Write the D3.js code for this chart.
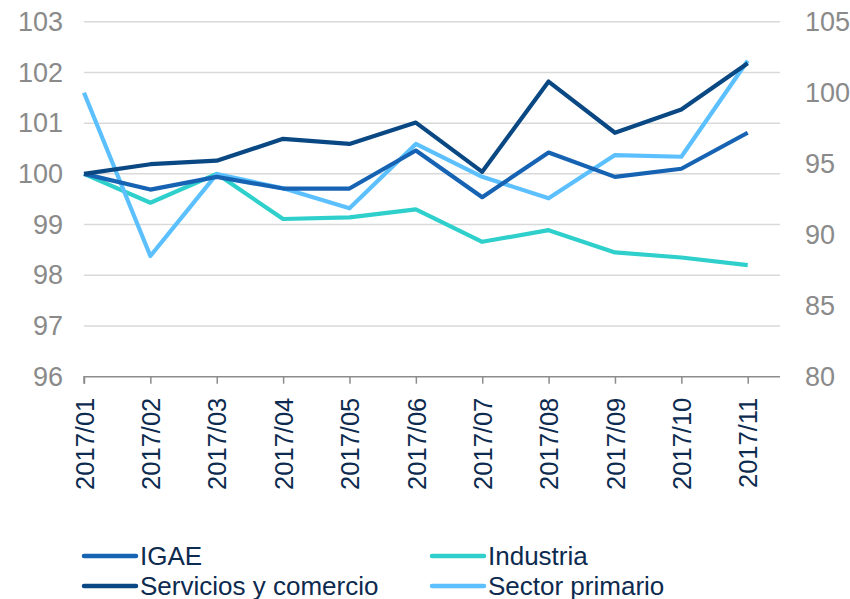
<!DOCTYPE html>
<html>
<head>
<meta charset="utf-8">
<script src="https://cdnjs.cloudflare.com/ajax/libs/d3/7.8.5/d3.min.js"></script>
<style>
  body { margin: 0; background: #fff; }
  text { font-family: "Liberation Sans", Arial, sans-serif; }
</style>
</head>
<body>
<div id="chart"></div>
<script>
const months = ["2017/01", "2017/02", "2017/03", "2017/04", "2017/05", "2017/06",
  "2017/07", "2017/08", "2017/09", "2017/10", "2017/11"];
const igae = [100.0, 99.69, 99.94, 99.71, 99.71, 100.46, 99.54, 100.42, 99.94, 100.10, 100.81];
const servicios = [100.0, 100.19, 100.26, 100.69, 100.59, 101.01, 100.04, 101.82, 100.81, 101.27, 102.18];
const industria = [100.0, 99.43, 100.0, 99.11, 99.14, 99.30, 98.66, 98.89, 98.45, 98.35, 98.20];
// plotted on the right axis
const primario = [100.0, 88.5, 94.27, 93.27, 91.86, 96.39, 94.08, 92.56, 95.61, 95.49, 102.25];
const leftTicks = [96, 97, 98, 99, 100, 101, 102, 103];
const rightTicks = [80, 85, 90, 95, 100, 105];

const series = [
  { name: "IGAE", values: igae, color: "#1763b3", axis: "left" },
  { name: "Industria", values: industria, color: "#2fd0cc", axis: "left" },
  { name: "Servicios y comercio", values: servicios, color: "#0a4884", axis: "left" },
  { name: "Sector primario", values: primario, color: "#5cc0ff", axis: "right" }
];

const W = 850, H = 599;
const plotLeft = 84, plotRight = 780, plotTop = 21.7, plotBottom = 376.7;

const svg = d3.select("#chart").append("svg")
  .attr("width", W)
  .attr("height", H);

const x = d3.scalePoint()
  .domain(months)
  .range([plotLeft, 747.7]);

const yL = d3.scaleLinear().domain([96, 103]).range([plotBottom, plotTop]);
const yR = d3.scaleLinear().domain([80, 105]).range([plotBottom, plotTop]);

// gridlines
svg.append("g")
  .selectAll("line")
  .data(leftTicks.slice(1))
  .enter()
  .append("line")
  .attr("x1", plotLeft)
  .attr("x2", plotRight)
  .attr("y1", d => yL(d))
  .attr("y2", d => yL(d))
  .attr("stroke", "#d9d9d9")
  .attr("stroke-width", 1.5);

// left axis labels
const leftAxis = svg.append("g")
  .attr("transform", `translate(${plotLeft},0)`)
  .call(d3.axisLeft(yL).tickValues(leftTicks).tickFormat(d3.format("d")).tickSize(0).tickPadding(21));
leftAxis.select(".domain").remove();
leftAxis.selectAll("text")
  .attr("fill", "#8a8a8a")
  .style("font-size", "27px");

// right axis labels
const rightAxis = svg.append("g")
  .attr("transform", `translate(${plotRight},0)`)
  .call(d3.axisRight(yR).tickValues(rightTicks).tickFormat(d3.format("d")).tickSize(0).tickPadding(25));
rightAxis.select(".domain").remove();
rightAxis.selectAll("text")
  .attr("fill", "#8a8a8a")
  .style("font-size", "27px");

// bottom axis
const xAxis = svg.append("g")
  .attr("transform", `translate(0,${plotBottom})`)
  .call(d3.axisBottom(x).tickSize(7).tickPadding(0));
xAxis.select(".domain")
  .attr("d", `M${plotLeft},7V0H${plotRight}`)
  .attr("stroke", "#8c8c8c")
  .attr("stroke-width", 1.5);
xAxis.selectAll(".tick line")
  .attr("stroke", "#8c8c8c")
  .attr("stroke-width", 1.5);
xAxis.selectAll("text")
  .attr("fill", "#0d2a4f")
  .style("font-size", "25.5px")
  .attr("transform", "rotate(-90)")
  .attr("text-anchor", "end")
  .attr("x", -21)
  .attr("y", 0)
  .attr("dy", "0.36em");

// lines
const drawOrder = [series[1], series[3], series[0], series[2]];
svg.append("g")
  .selectAll("path")
  .data(drawOrder)
  .enter()
  .append("path")
  .attr("fill", "none")
  .attr("stroke", d => d.color)
  .attr("stroke-width", 4.2)
  .attr("stroke-linejoin", "round")
  .attr("d", d => {
    const y = d.axis === "left" ? yL : yR;
    return d3.line()
      .x((v, i) => x(months[i]))
      .y(v => y(v))(d.values);
  });

// legend
const legendItems = [
  { s: series[0], lx: 84, ly: 556 },
  { s: series[1], lx: 432, ly: 556 },
  { s: series[2], lx: 84, ly: 586 },
  { s: series[3], lx: 432, ly: 586 }
];
const legend = svg.append("g")
  .selectAll("g")
  .data(legendItems)
  .enter()
  .append("g")
  .attr("transform", d => `translate(${d.lx},${d.ly})`);
legend.append("line")
  .attr("x1", 0)
  .attr("x2", 52)
  .attr("stroke", d => d.s.color)
  .attr("stroke-width", 4.5)
  .attr("stroke-linecap", "round");
legend.append("text")
  .attr("x", 56)
  .attr("dy", "0.36em")
  .attr("fill", "#0d2a4f")
  .style("font-size", "26px")
  .text(d => d.s.name);
</script>
</body>
</html>
